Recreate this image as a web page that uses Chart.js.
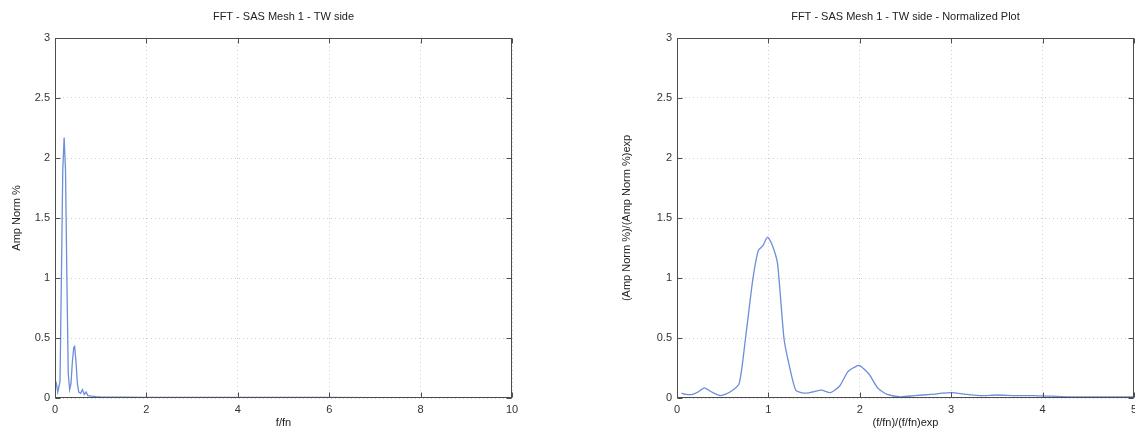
<!DOCTYPE html>
<html>
<head>
<meta charset="utf-8">
<script src="https://cdn.jsdelivr.net/npm/chart.js@4.4.0/dist/chart.umd.min.js"></script>
<style>
  html, body { margin: 0; padding: 0; background: #fff; }
  #wrap { position: relative; width: 1135px; height: 434px; overflow: hidden; }
  .pane { position: absolute; top: 0; height: 434px; }
  #left { left: 0; width: 560px; }
  #right { left: 560px; width: 582px; }
</style>
</head>
<body>
<div id="wrap">
  <div class="pane" id="left"><canvas id="fftChart"></canvas></div>
  <div class="pane" id="right"><canvas id="normChart"></canvas></div>
</div>
<script>
// FFT spectrum, SAS Mesh 1, TW side
const fftFreq = [0, 0.03, 0.06, 0.09, 0.11, 0.14, 0.17, 0.2, 0.23, 0.26, 0.29, 0.32, 0.35, 0.38, 0.41, 0.43, 0.46, 0.49, 0.52, 0.56, 0.6, 0.64, 0.68, 0.72, 0.8, 0.9, 1.0, 1.5, 2, 2.5, 3, 4, 5, 6, 7, 8, 9, 10];
const fftAmp  = [0.08, 0.12, 0.05, 0.1, 0.14, 1.0, 1.9, 2.17, 1.9, 1.0, 0.2, 0.07, 0.12, 0.3, 0.42, 0.43, 0.3, 0.12, 0.05, 0.04, 0.07, 0.03, 0.05, 0.02, 0.015, 0.012, 0.01, 0.008, 0.006, 0.005, 0.005, 0.004, 0.004, 0.004, 0.003, 0.003, 0.003, 0.003];

// Same spectrum normalised by the experimental reference
const normFreq = [0.05, 0.1, 0.17, 0.23, 0.3, 0.38, 0.48, 0.58, 0.68, 0.75, 0.83, 0.89, 0.94, 0.99, 1.04, 1.1, 1.17, 1.22, 1.3, 1.39, 1.48, 1.58, 1.68, 1.78, 1.87, 1.95, 2.0, 2.1, 2.2, 2.3, 2.45, 2.6, 2.78, 2.9, 3.0, 3.18, 3.33, 3.5, 3.7, 3.9, 4.1, 4.3, 4.5, 4.7, 5.0];
const normAmp  = [0.04, 0.03, 0.03, 0.05, 0.085, 0.05, 0.02, 0.05, 0.12, 0.5, 0.99, 1.23, 1.27, 1.34, 1.28, 1.12, 0.5, 0.3, 0.065, 0.04, 0.05, 0.065, 0.045, 0.1, 0.22, 0.26, 0.27, 0.2, 0.08, 0.03, 0.01, 0.02, 0.03, 0.04, 0.045, 0.03, 0.02, 0.025, 0.02, 0.02, 0.015, 0.01, 0.01, 0.01, 0.01];

// Axis ticks
const yTicks = [0, 0.5, 1, 1.5, 2, 2.5, 3];
const fftXTicks = [0, 2, 4, 6, 8, 10];
const normXTicks = [0, 1, 2, 3, 4, 5];

const FONT = "'Liberation Sans', Arial, sans-serif";
const LINE_COLOR = '#6d8ed8';

// Boxed axes with inward tick marks and a title above the plot area
const framePlugin = {
  id: 'frame',
  afterDatasetsDraw(chart, args, opts) {
    const { ctx, chartArea: a, scales: { x, y } } = chart;
    const L = Math.round(a.left) + 0.5, R = Math.round(a.right) - 0.5;
    const T = Math.round(a.top) + 0.5, B = Math.round(a.bottom) - 0.5;
    const tl = 5;
    ctx.save();
    ctx.strokeStyle = '#4d4d4d';
    ctx.lineWidth = 1;
    ctx.beginPath();
    x.ticks.forEach(t => {
      const px = Math.round(x.getPixelForValue(t.value)) + 0.5;
      ctx.moveTo(px, B); ctx.lineTo(px, B - tl);
      ctx.moveTo(px, T); ctx.lineTo(px, T + tl);
    });
    y.ticks.forEach(t => {
      const py = Math.round(y.getPixelForValue(t.value)) + 0.5;
      ctx.moveTo(L, py); ctx.lineTo(L + tl, py);
      ctx.moveTo(R, py); ctx.lineTo(R - tl, py);
    });
    ctx.stroke();
    ctx.strokeRect(L, T, R - L, B - T);
    ctx.fillStyle = '#222';
    ctx.font = '11px ' + FONT;
    ctx.textAlign = 'center';
    ctx.textBaseline = 'middle';
    ctx.fillText(opts.title, (a.left + a.right) / 2, a.top - 21);
    ctx.restore();
  }
};

function makeChart(id, cfg) {
  return new Chart(document.getElementById(id), {
    type: 'scatter',
    data: {
      datasets: [{
        data: cfg.xs.map((v, i) => ({ x: v, y: cfg.ys[i] })),
        showLine: true,
        borderColor: LINE_COLOR,
        borderWidth: 1.3,
        pointRadius: 0,
        tension: cfg.tension,
        fill: false
      }]
    },
    options: {
      responsive: true,
      maintainAspectRatio: false,
      animation: false,
      layout: { padding: { top: 38, right: cfg.padRight, left: 0, bottom: 0 } },
      plugins: {
        legend: { display: false },
        tooltip: { enabled: false },
        frame: { title: cfg.title }
      },
      scales: {
        x: {
          type: 'linear',
          min: cfg.xTicks[0],
          max: cfg.xTicks[cfg.xTicks.length - 1],
          afterBuildTicks(s) { s.ticks = cfg.xTicks.map(v => ({ value: v })); },
          afterFit(s) { s.height = 36; },
          grid: { color: '#cfcfcf', lineWidth: 1, drawTicks: false },
          border: { display: false, dash: [1, 3] },
          ticks: { padding: 5, color: '#333', font: { family: FONT, size: 11 }, maxRotation: 0, callback: v => String(v) },
          title: { display: true, text: cfg.xTitle, color: '#222', font: { family: FONT, size: 11 }, padding: { top: 0, bottom: 4 } }
        },
        y: {
          type: 'linear',
          min: 0,
          max: 3,
          afterBuildTicks(s) { s.ticks = yTicks.map(v => ({ value: v })); },
          afterFit(s) { s.width = cfg.yAxisWidth; },
          grid: { color: '#cfcfcf', lineWidth: 1, drawTicks: false },
          border: { display: false, dash: [1, 3] },
          ticks: { padding: 5, color: '#333', font: { family: FONT, size: 11 }, callback: v => String(v) },
          title: { display: true, text: cfg.yTitle, color: '#222', font: { family: FONT, size: 11 }, padding: { top: cfg.yTitlePad, bottom: 0 } }
        }
      }
    },
    plugins: [framePlugin]
  });
}

makeChart('fftChart', {
  xs: fftFreq, ys: fftAmp, xTicks: fftXTicks, tension: 0,
  title: 'FFT - SAS Mesh 1 - TW side',
  xTitle: 'f/fn', yTitle: 'Amp Norm %',
  yAxisWidth: 55, yTitlePad: 10, padRight: 48
});

makeChart('normChart', {
  xs: normFreq, ys: normAmp, xTicks: normXTicks, tension: 0.2,
  title: 'FFT - SAS Mesh 1 - TW side - Normalized Plot',
  xTitle: '(f/fn)/(f/fn)exp', yTitle: '(Amp Norm %)/(Amp Norm %)exp',
  yAxisWidth: 117, yTitlePad: 60, padRight: 1
});
</script>
</body>
</html>
